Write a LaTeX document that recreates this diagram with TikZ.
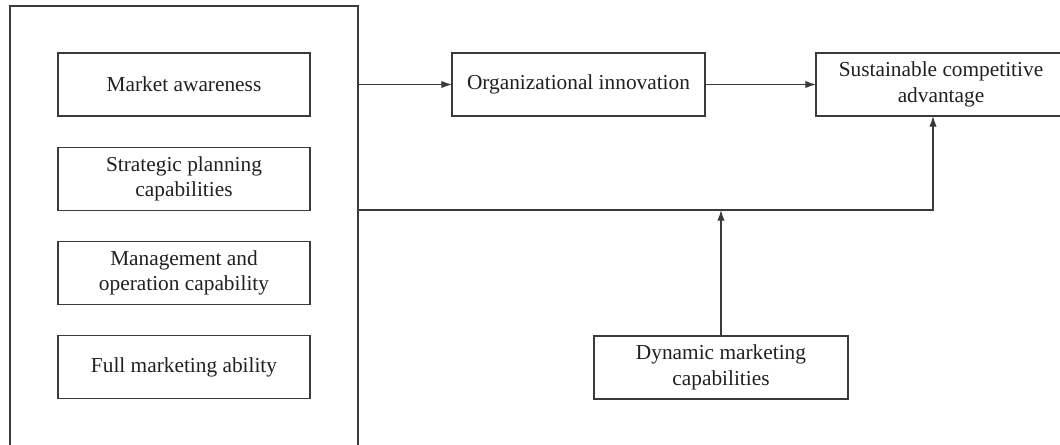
\documentclass[tikz,border=0pt]{standalone}
\usepackage{fontspec}
\setmainfont{Liberation Serif}
\usetikzlibrary{arrows.meta}
\definecolor{ln}{HTML}{3A3A3A}
\definecolor{tx}{HTML}{231F20}
\begin{document}
\begin{tikzpicture}[x=0.75pt,y=-0.75pt,
  box/.style={draw=ln, line width=0.85pt, text=tx, align=center, inner sep=0pt, outer sep=0pt,
    minimum height=47.25pt, font=\fontsize{16}{19}\selectfont},
  conn/.style={draw=ln, line width=0.85pt},
  arr/.style={conn, -{Latex[length=8pt,width=5.5pt]}}]
\useasboundingbox (0,0) rectangle (1060,445);
\node[inner sep=0pt, outer sep=0pt, minimum width=261pt, minimum height=329.25pt] (grp) at (184,225.5) {};
\draw[conn] (grp.south west) -- (grp.north west) -- (grp.north east) -- (grp.south east);
\node[box, minimum width=189pt] (ma) at (184,84.5) {Market awareness};
\node[box, minimum width=189pt] (sp) at (184,179) {Strategic planning\\capabilities};
\node[box, minimum width=189pt] (mo) at (184,273) {Management and\\operation capability};
\node[box, minimum width=189pt] (fm) at (184,367) {Full marketing ability};
\node[box, minimum width=189.75pt] (org) at (578.5,84.5) {Organizational innovation};
\node[box, minimum width=187.5pt] (sca) at (941,84.5) {Sustainable competitive\\advantage};
\node[box, minimum width=190.5pt] (dmc) at (721,367.5) {Dynamic marketing\\capabilities};
\coordinate (turn) at (933,210);
\draw[arr] (grp.east |- ma) -- (org.west);
\draw[arr] (org.east) -- (sca.west);
\draw[arr] (grp.east |- turn) -- (turn) -- (sca.south -| turn);
\draw[arr] (dmc.north) -- (dmc.north |- turn);
\end{tikzpicture}
\end{document}
